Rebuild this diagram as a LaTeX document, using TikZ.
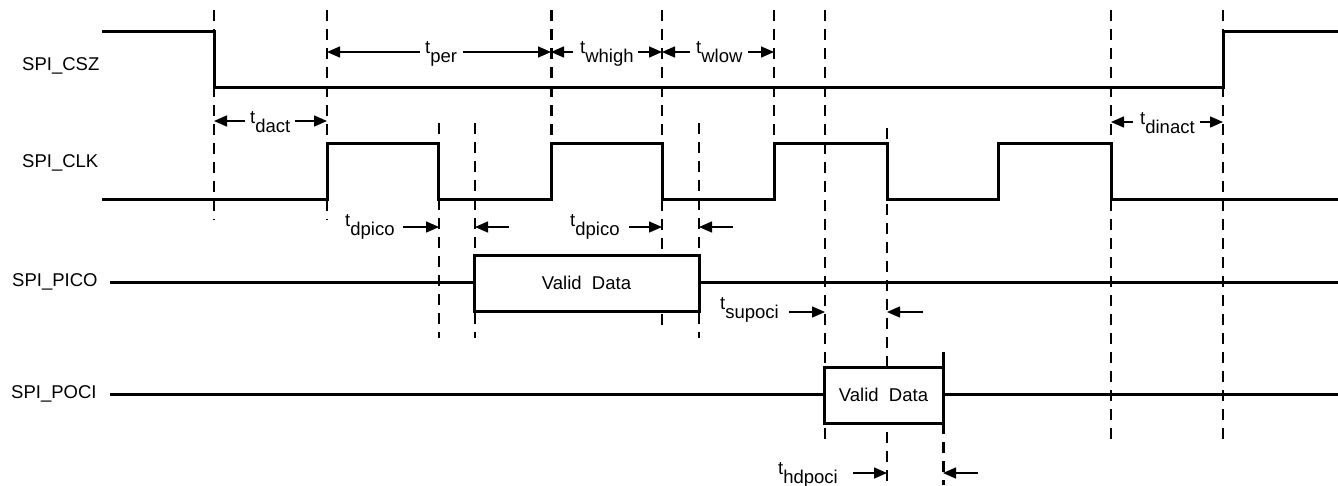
\documentclass[tikz,border=0pt]{standalone}
\usepackage{fontspec}
\setmainfont{Liberation Sans}
\usetikzlibrary{arrows.meta}
\newcommand{\tlab}[1]{t\lower9pt\hbox{#1}}
\begin{document}
\begin{tikzpicture}[x=1pt,y=-1pt,
  sig/.style={line width=3pt, line join=miter, line cap=butt},
  guide/.style={line width=1.5pt, dash pattern=on 11pt off 8pt},
  guidethick/.style={line width=3pt, dash pattern=on 11pt off 8pt},
  dim/.style={line width=1.5pt, -{Triangle[length=13pt,width=11pt]}},
  lbl/.style={anchor=west, inner sep=0pt, font=\fontsize{18.5}{22}\selectfont},
  tl/.style={anchor=base west, inner sep=0pt, font=\fontsize{18.5}{22}\selectfont},
  databox/.style={draw, fill=white, line width=3pt, inner sep=0pt, font=\fontsize{18.5}{22}\selectfont}
]
\useasboundingbox (0,0) rectangle (1338,485);

% guide lines
\foreach \x/\a/\b in {214/10/220, 327/10/220, 439/123/338, 475/123/338, 662/10/327,
                      699/123/338, 774/10/143, 825/10/445, 887/128/485, 1111/10/445, 1223/10/445}
  \draw[guide] (\x,\a) -- (\x,\b);
\draw[guidethick] (551,10) -- (551,143);
\draw[guidethick] (943,423) -- (943,485);

% signal labels
\node[lbl] (lcsz) at (22,65.5) {SPI\_CSZ};
\node[lbl] (lclk) at (22,163) {SPI\_CLK};
\node[lbl] (lpico) at (12,282) {SPI\_PICO};
\node[lbl] (lpoci) at (11,394) {SPI\_POCI};

% SPI_CSZ
\draw[sig] (102,31) -- (214,31) -- (214,87) -- (1223,87) -- (1223,31) -- (1338,31);
% SPI_CLK
\draw[sig] (102,199) -- (327,199) -- (327,143) -- (438,143) -- (438,199) -- (551,199)
  -- (551,143) -- (662,143) -- (662,199) -- (774,199) -- (774,143) -- (887,143)
  -- (887,199) -- (998,199) -- (998,143) -- (1111,143) -- (1111,199) -- (1338,199);
% SPI_PICO
\node[databox, minimum width=225pt, minimum height=56pt] (pbox) at (586.5,283) {Valid\ \ Data};
\draw[sig] (110,282) -- (pbox.west |- 0,282);
\draw[sig] (pbox.east |- 0,282) -- (1338,282);
% SPI_POCI
\node[databox, minimum width=119pt, minimum height=56pt] (obox) at (883.5,395) {Valid\ \ Data};
\draw[sig] (110,394) -- (obox.west |- 0,394);
\draw[sig] (obox.east |- 0,394) -- (1338,394);
\draw[sig] (943,352) -- (943,368);

% timing annotations
\draw[dim] (420,52) -- (327,52);
\node[tl] (tper) at (425,53.5) {\tlab{per}};
\draw[dim] (463,52) -- (551,52);

\draw[dim] (573,52) -- (551,52);
\node[tl] (twhigh) at (580,53.5) {\tlab{whigh}};
\draw[dim] (638,52) -- (662,52);

\draw[dim] (690,52) -- (662,52);
\node[tl] (twlow) at (696,53.5) {\tlab{wlow}};
\draw[dim] (748,52) -- (774,52);

\draw[dim] (245,121) -- (214,121);
\node[tl] (tdact) at (250,123) {\tlab{dact}};
\draw[dim] (295,121) -- (327,121);

\draw[dim] (1133,122) -- (1111,122);
\node[tl] (tdinact) at (1140,124) {\tlab{dinact}};
\draw[dim] (1200,122) -- (1223,122);

\node[tl] (tdpico1) at (345,226.7) {\tlab{dpico}};
\draw[dim] (403,227) -- (439,227);
\draw[dim] (509,227) -- (475,227);

\node[tl] (tdpico2) at (570,226.7) {\tlab{dpico}};
\draw[dim] (629,227) -- (662,227);
\draw[dim] (733,227) -- (699,227);

\node[tl] (tsupoci) at (720,309.5) {\tlab{supoci}};
\draw[dim] (789,312) -- (825,312);
\draw[dim] (923,312) -- (887,312);

\node[tl] (thdpoci) at (778,474) {\tlab{hdpoci}};
\draw[dim] (853,473) -- (887,473);
\draw[dim] (978,473) -- (943,473);
\end{tikzpicture}
\end{document}
